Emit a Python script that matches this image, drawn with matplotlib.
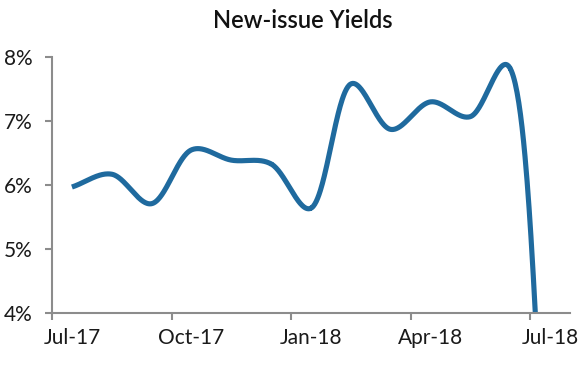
import numpy as np
import matplotlib
matplotlib.use("Agg")
import matplotlib.pyplot as plt

# Monthly new-issue yields (%), Jul-17 .. Jul-18
months = ["2017-07", "2017-08", "2017-09", "2017-10", "2017-11", "2017-12",
          "2018-01", "2018-02", "2018-03", "2018-04", "2018-05", "2018-06", "2018-07"]
yields = [5.97, 6.17, 5.71, 6.55, 6.39, 6.33, 5.64, 7.58, 6.87, 7.30, 7.07, 7.82, 0.0]

tick_labels = ["Jul-17", "Oct-17", "Jan-18", "Apr-18", "Jul-18"]
tick_months = [0, 3, 6, 9, 12]
y_ticks = [4, 5, 6, 7, 8]

# month index, points sit in the middle of each month
x = np.arange(len(months)) + 0.5
y = np.array(yields)

# approx screen scale (px per month, px per 1%) used for the smoothing
SX, SY = 40.0, 63.7


# centripetal Catmull-Rom in screen units, close to a spreadsheet "smoothed line"
def smooth(px, py, n=60, alpha=0.3):
    P = np.column_stack([px * SX, py * SY])
    P = np.vstack([P[0] - (P[1] - P[0]), P, P[-1] + (P[-1] - P[-2])])
    out = []
    for i in range(1, len(P) - 2):
        p0, p1, p2, p3 = P[i - 1], P[i], P[i + 1], P[i + 2]
        t0 = 0.0
        t1 = t0 + np.linalg.norm(p1 - p0) ** alpha
        t2 = t1 + np.linalg.norm(p2 - p1) ** alpha
        t3 = t2 + np.linalg.norm(p3 - p2) ** alpha
        t = np.linspace(t1, t2, n)[:, None]
        a1 = (t1 - t) / (t1 - t0) * p0 + (t - t0) / (t1 - t0) * p1
        a2 = (t2 - t) / (t2 - t1) * p1 + (t - t1) / (t2 - t1) * p2
        a3 = (t3 - t) / (t3 - t2) * p2 + (t - t2) / (t3 - t2) * p3
        b1 = (t2 - t) / (t2 - t0) * a1 + (t - t0) / (t2 - t0) * a2
        b2 = (t3 - t) / (t3 - t1) * a2 + (t - t1) / (t3 - t1) * a3
        c = (t2 - t) / (t2 - t1) * b1 + (t - t1) / (t2 - t1) * b2
        out.append(c)
    out = np.vstack(out)
    return out[:, 0] / SX, out[:, 1] / SY


sx, sy = smooth(x, y)

plt.rcParams['font.family'] = ['Lato', 'DejaVu Sans']

fig = plt.figure(figsize=(5.87, 3.68), dpi=100)
ax = fig.add_axes([0.0886, 0.149, 0.8825, 0.696])

ax.plot(sx, sy, color='#1f6a9e', lw=3.7, solid_capstyle='butt')

ax.set_xlim(0, 13)
ax.set_ylim(4, 8)

# ticks at the start of each quarter, labels centred in the month
ax.set_xticks(tick_months)
ax.set_xticklabels([])
ax.set_xticks([m + 0.5 for m in tick_months], minor=True)
ax.set_xticklabels(tick_labels, minor=True)
ax.tick_params(axis='x', which='minor', length=0, pad=11, labelsize=15,
               labelcolor='#1a1a1a')

ax.set_yticks(y_ticks)
ax.set_yticklabels([f"{v}%" for v in y_ticks])

for s in ['top', 'right']:
    ax.spines[s].set_visible(False)
for s in ['left', 'bottom']:
    ax.spines[s].set_color('#8c8c8c')
    ax.spines[s].set_linewidth(1.5)

ax.tick_params(axis='both', which='major', colors='#8c8c8c', width=1.5, length=5,
               labelsize=15, labelcolor='#1a1a1a')
ax.tick_params(axis='y', pad=9)

fig.suptitle("New-issue Yields", x=0.516, y=0.975, fontsize=17, color='#111111',
             fontweight='semibold')

fig.savefig("out.png", dpi=100)
